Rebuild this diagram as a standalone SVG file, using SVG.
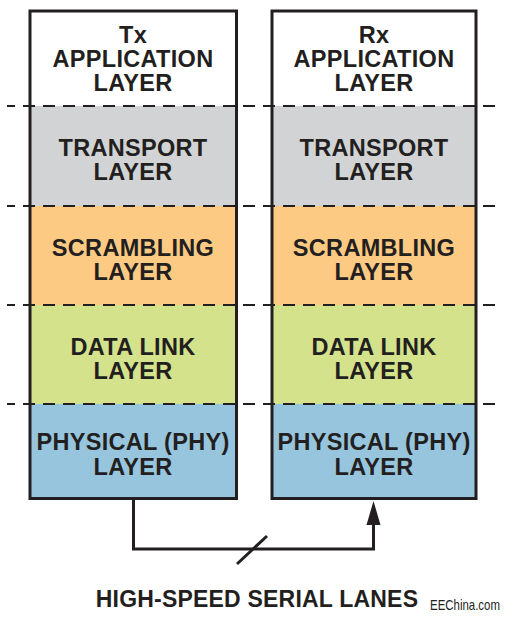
<svg xmlns="http://www.w3.org/2000/svg" width="508" height="618" viewBox="0 0 508 618">
<defs>
<style>
.lbl{font-family:"Liberation Sans",Arial,sans-serif;font-weight:bold;font-size:23.5px;letter-spacing:0.3px;fill:#231f20;text-anchor:middle}
.box{fill:none;stroke:#231f20;stroke-width:3}
.dash{stroke:#231f20;stroke-width:2;stroke-dasharray:12 8;stroke-dashoffset:4}
.wire{fill:none;stroke:#231f20;stroke-width:3}
.app{fill:#ffffff}.tra{fill:#d1d3d4}.scr{fill:#fdca83}.dl{fill:#d3e28b}.phy{fill:#97c5de}
</style>
</defs>
<rect width="508" height="618" fill="#ffffff"/>
<g id="fills">
<rect class="app" x="30" y="11" width="206.5" height="95"/>
<rect class="tra" x="30" y="106" width="206.5" height="100"/>
<rect class="scr" x="30" y="206" width="206.5" height="99"/>
<rect class="dl" x="30" y="305" width="206.5" height="99"/>
<rect class="phy" x="30" y="404" width="206.5" height="94.5"/>
<rect class="app" x="272" y="11" width="204" height="95"/>
<rect class="tra" x="272" y="106" width="204" height="100"/>
<rect class="scr" x="272" y="206" width="204" height="99"/>
<rect class="dl" x="272" y="305" width="204" height="99"/>
<rect class="phy" x="272" y="404" width="204" height="94.5"/>
</g>
<g id="dividers">
<line class="dash" x1="7" y1="106" x2="501" y2="106"/>
<line class="dash" x1="7" y1="206" x2="501" y2="206"/>
<line class="dash" x1="7" y1="305" x2="501" y2="305"/>
<line class="dash" x1="7" y1="404" x2="501" y2="404"/>
</g>
<g id="tx-stack">
<rect class="box" x="30" y="11" width="206.5" height="487.5"/>
<g id="tx-app"><text class="lbl" x="133" y="43">Tx</text><text class="lbl" x="133" y="67">APPLICATION</text><text class="lbl" x="133" y="91">LAYER</text></g>
<g id="tx-transport"><text class="lbl" x="133" y="156">TRANSPORT</text><text class="lbl" x="133" y="180">LAYER</text></g>
<g id="tx-scrambling"><text class="lbl" x="133" y="255.5">SCRAMBLING</text><text class="lbl" x="133" y="279.5">LAYER</text></g>
<g id="tx-datalink"><text class="lbl" x="133" y="354.5">DATA LINK</text><text class="lbl" x="133" y="378.5">LAYER</text></g>
<g id="tx-phy"><text class="lbl" x="133" y="450">PHYSICAL (PHY)</text><text class="lbl" x="133" y="474.5">LAYER</text></g>
</g>
<g id="rx-stack">
<rect class="box" x="272" y="11" width="204" height="487.5"/>
<g id="rx-app"><text class="lbl" x="374" y="43">Rx</text><text class="lbl" x="374" y="67">APPLICATION</text><text class="lbl" x="374" y="91">LAYER</text></g>
<g id="rx-transport"><text class="lbl" x="374" y="156">TRANSPORT</text><text class="lbl" x="374" y="180">LAYER</text></g>
<g id="rx-scrambling"><text class="lbl" x="374" y="255.5">SCRAMBLING</text><text class="lbl" x="374" y="279.5">LAYER</text></g>
<g id="rx-datalink"><text class="lbl" x="374" y="354.5">DATA LINK</text><text class="lbl" x="374" y="378.5">LAYER</text></g>
<g id="rx-phy"><text class="lbl" x="374" y="450">PHYSICAL (PHY)</text><text class="lbl" x="374" y="474.5">LAYER</text></g>
</g>
<g id="connectors">
<path class="wire" d="M133.5,500 V549 H373.5 V520" />
<polygon points="373.5,501 380.5,525 366.5,525" fill="#231f20"/>
<line class="wire" x1="237" y1="564" x2="267" y2="536"/>
</g>
<g id="labels">
<text class="lbl" x="257" y="607" style="font-size:23px;letter-spacing:0.2px">HIGH-SPEED SERIAL LANES</text>
<text x="430" y="610" textLength="70" lengthAdjust="spacingAndGlyphs" style="font-family:'Liberation Sans',Arial,sans-serif;font-size:14.5px;fill:#231f20">EEChina.com</text>
</g>
</svg>
